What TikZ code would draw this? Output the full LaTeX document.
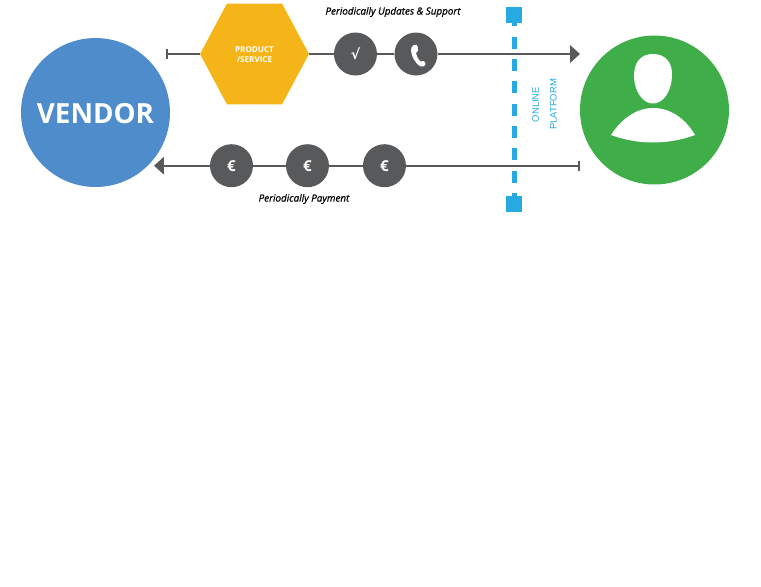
\documentclass[tikz,border=0pt]{standalone}
\usepackage{fontspec}
\setmainfont{Open Sans}
\newfontfamily\symbolfont{DejaVu Sans}
\newfontfamily\platformfont{Liberation Sans}
\newfontfamily\captionfont{Open Sans}[ItalicFeatures={FakeBold=0.8}]
\usetikzlibrary{arrows.meta}
\definecolor{vendorblue}{HTML}{4F8CCB}
\definecolor{usergreen}{HTML}{3FAE49}
\definecolor{hexyellow}{HTML}{F5B518}
\definecolor{flowgrey}{HTML}{58595B}
\definecolor{platformblue}{HTML}{27AAE1}
\tikzset{
  party/.style={circle, minimum size=2.98cm, inner sep=0pt},
  token/.style={circle, fill=flowgrey, minimum size=0.86cm, inner sep=0pt, text=white, font=\bfseries\fontsize{8.6}{8.6}\selectfont},
  marker/.style={rectangle, fill=platformblue, minimum size=0.32cm, inner sep=0pt},
  caption/.style={font=\captionfont\itshape\fontsize{5.6}{7}\selectfont},
  flow/.style={draw=flowgrey, line width=0.04cm},
  barstart/.style={flow, {Bar[width=0.2cm]}-},
  tipend/.style={flow, -{Triangle[length=0.2cm,width=0.35cm]}},
  hexfill/.style={path picture={
    \fill [hexyellow] (path picture bounding box.west)
      -- ([xshift=0.54cm]path picture bounding box.north west)
      -- ([xshift=-0.54cm]path picture bounding box.north east)
      -- (path picture bounding box.east)
      -- ([xshift=-0.54cm]path picture bounding box.south east)
      -- ([xshift=0.54cm]path picture bounding box.south west) -- cycle;}}
}
\begin{document}
\begin{tikzpicture}[x=0.02cm,y=-0.02cm,node distance=2cm]
    \useasboundingbox (0,0) rectangle (761,586);

    % Nodes
    \node [party, fill=vendorblue, text=white, text height=0.43cm, font=\bfseries\fontsize{15.8}{16}\selectfont] (vendor) at (95.5,112.5) {VENDOR};
    \node [party, fill=usergreen] (user) at (654.5,110) {};
    \node [rectangle, hexfill, minimum width=2.18cm, minimum height=2.02cm, inner sep=0pt,
           label={[align=center, text=white, yshift=-0.02cm, font=\bfseries\fontsize{4.6}{5.7}\selectfont]center:PRODUCT\\/SERVICE}] (product) at (254.5,54) {};
    \node [token, right of=product, node distance=2.02cm, font=\bfseries\symbolfont\fontsize{8}{8}\selectfont] (check) {√};
    \node [token, right of=check, node distance=1.21cm] (phone) {};
    \node [token] (euroC) at (231.5,165.7) {€};
    \node [token, right of=euroC, node distance=1.52cm] (euroB) {€};
    \node [token, right of=euroB, node distance=1.54cm] (euroA) {€};
    \node [caption] (updates) at (393,12) {Periodically Updates \& Support};
    \node [caption] (payment) at (304,199) {Periodically Payment};
    \node [marker] (top) at (514,15) {};
    \node [marker] (bottom) at (514,204) {};
    \node [rotate=90, align=center, text=platformblue, font=\platformfont\fontsize{5.4}{10.2}\selectfont] (platform) at (544.5,104.5) {ONLINE\\PLATFORM};
    \coordinate (updatesstart) at (165.5,54);
    \coordinate (updatesend) at (580,54);
    \coordinate (paymentstart) at (579.5,165.7);
    \coordinate (paymentend) at (154,165.7);

    % Platform line
    \draw [platformblue, line width=0.1cm, dash pattern=on 0.24cm off 0.207cm, dash phase=0.18cm] (top) -- (bottom);

    % Arrows
    \draw [barstart] (updatesstart) -- (product);
    \draw [flow] (product) -- (check);
    \draw [flow] (check) -- (phone);
    \draw [tipend] (phone) -- (updatesend);
    \draw [barstart] (paymentstart) -- (euroA);
    \draw [flow] (euroA) -- (euroB);
    \draw [flow] (euroB) -- (euroC);
    \draw [tipend] (euroC) -- (paymentend);

    % Phone icon
    \fill [white] (413,45.5) .. controls (416,44) and (418,45) .. (418,47) .. controls (418.5,50) and (418,52) .. (416,53)
      .. controls (417,57) and (418.5,60) .. (420.5,61.5) .. controls (423,60) and (425,61) .. (425.5,64)
      .. controls (425.5,66) and (423,67.5) .. (421,66.5) .. controls (415,64) and (411,55) .. (411,50)
      .. controls (411,48) and (412,46.5) .. (413,45.5) -- cycle;

    % Person
    \fill [white] (653,54) .. controls (665,54) and (672,62) .. (672,74) .. controls (672,92) and (663,103.5) .. (653,103.5)
      .. controls (642,103.5) and (634,90) .. (634,76) .. controls (634,62) and (641,54) .. (653,54) -- cycle;
    \fill [white] (611,135) .. controls (622,118) and (637,108) .. (653,108) .. controls (670,108) and (685,118) .. (695,135)
      .. controls (668,145) and (638,145) .. (611,135) -- cycle;
\end{tikzpicture}
\end{document}
